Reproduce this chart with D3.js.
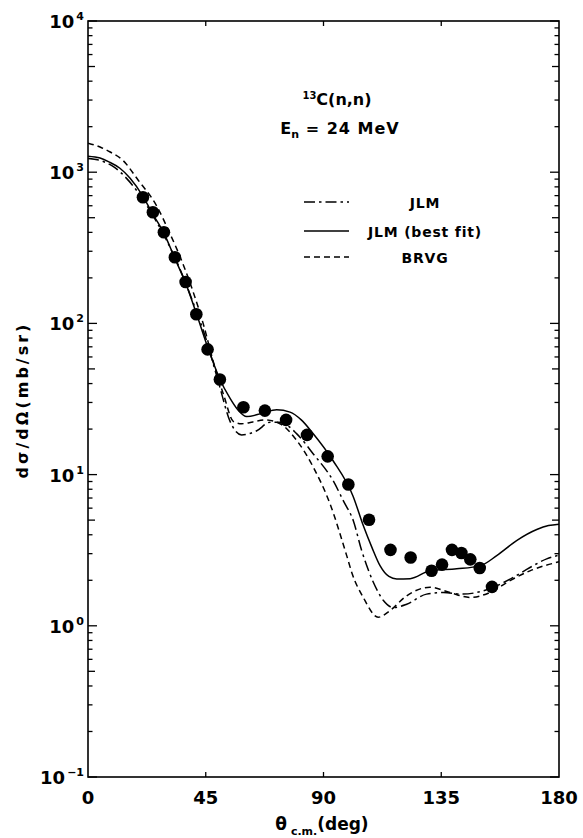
<!DOCTYPE html>
<html><head><meta charset="utf-8">
<script src="https://cdn.jsdelivr.net/npm/d3@7"></script>
<style>
body{margin:0;background:#fff;}
text{font-family:"DejaVu Sans","Liberation Sans",Arial,sans-serif;fill:#000;}
</style></head>
<body><svg id="c" width="583" height="838"></svg>
<script>
// Data (angle in degrees, cross-section in mb/sr)
const expAngle = [21.0, 24.8, 29.0, 33.2, 37.3, 41.4, 45.7, 50.4, 59.4, 67.6, 75.7, 83.7, 91.6, 99.5, 107.4, 115.6, 123.3, 131.3, 135.3, 139.1, 142.7, 146.1, 149.7, 154.4];
const expSigma = [683, 543, 401, 274, 188, 115, 67.3, 42.6, 27.9, 26.5, 23.0, 18.3, 13.2, 8.6, 5.03, 3.18, 2.83, 2.31, 2.54, 3.18, 3.03, 2.75, 2.41, 1.81];

const bestAngle = [0, 4.6, 8, 12.2, 16.1, 21, 24.8, 29, 33.2, 37.5, 41.3, 45.5, 50.1, 54.3, 57.5, 60.6, 66.5, 72.1, 77.2, 81.5, 86, 93.6, 101.3, 105.2, 108.5, 111.6, 115, 118, 123.1, 130.7, 140.9, 149.8, 156.2, 163.8, 171.5, 176, 180];
const bestSigma = [1277, 1240, 1170, 1062, 912, 693, 527, 395, 269, 181, 118, 71.5, 43.9, 31.9, 26.5, 24.2, 25.4, 26.8, 25.9, 23.0, 18.7, 12.4, 7.2, 4.6, 3.3, 2.5, 2.12, 2.04, 2.05, 2.31, 2.38, 2.49, 2.91, 3.66, 4.33, 4.6, 4.7];

const jlmAngle = [0, 5, 10, 15, 20, 25, 30, 35, 40, 45, 50, 54.3, 58.7, 64.5, 69.6, 73.4, 79.8, 86.1, 93.7, 97.6, 101.4, 104.6, 109, 112.9, 116.7, 121.8, 129.4, 135.8, 143.4, 148.5, 154.9, 162.5, 168.9, 175.3, 180];
const jlmSigma = [1230, 1190, 1080, 900, 700, 510, 355, 232, 140, 80, 40, 22.5, 18.3, 19.5, 22.2, 22.2, 18.6, 13.7, 9.1, 6.7, 4.95, 3.14, 1.95, 1.47, 1.32, 1.39, 1.62, 1.66, 1.62, 1.66, 1.80, 2.09, 2.43, 2.77, 2.93];

const brvgAngle = [0, 4.6, 8.5, 13.3, 19.2, 26.2, 31.3, 36, 40, 44, 48, 52, 55.5, 58.7, 63, 67.6, 73.4, 79.8, 86.1, 92.5, 98.9, 101, 105.2, 110.9, 115.4, 121.8, 130.7, 138.3, 146, 153.6, 161.3, 168.9, 180];
const brvgSigma = [1556, 1467, 1360, 1199, 885, 600, 393, 255, 165, 100, 55, 33, 22.5, 21.7, 22.3, 23.0, 21.7, 16.8, 11.2, 6.4, 2.9, 2.2, 1.54, 1.14, 1.26, 1.58, 1.80, 1.66, 1.54, 1.66, 1.99, 2.31, 2.65];

const xTicks = [0, 45, 90, 135, 180];
const yDecades = [-1, 0, 1, 2, 3, 4];
const legendLabels = ["JLM", "JLM (best fit)", "BRVG"];

const svg = d3.select("#c");
const L = 88, R = 559, T = 21, B = 777;
const x = d3.scaleLinear().domain([0, 180]).range([L, R]);
const y = d3.scaleLog().domain([0.1, 1e4]).range([B, T]);

// frame
svg.append("rect").attr("x", L).attr("y", T).attr("width", R - L).attr("height", B - T)
  .attr("fill", "none").attr("stroke", "#000").attr("stroke-width", 1.6);

// y ticks (left + right, inward)
const minor = [];
for (let d = -1; d < 4; d++) for (let m = 2; m <= 9; m++) minor.push(m * Math.pow(10, d));
const g = svg.append("g").attr("stroke", "#000").attr("stroke-width", 1.3);
yDecades.forEach(d => {
  const yy = y(Math.pow(10, d));
  g.append("line").attr("x1", L).attr("x2", L + 9).attr("y1", yy).attr("y2", yy);
  g.append("line").attr("x1", R).attr("x2", R - 9).attr("y1", yy).attr("y2", yy);
});
minor.forEach(v => {
  const yy = y(v);
  const len = (Math.round(v / Math.pow(10, Math.floor(Math.log10(v) + 1e-9))) === 5) ? 7 : 4.5;
  g.append("line").attr("x1", L).attr("x2", L + len).attr("y1", yy).attr("y2", yy);
  g.append("line").attr("x1", R).attr("x2", R - len).attr("y1", yy).attr("y2", yy);
});
xTicks.slice(1, -1).forEach(v => {
  g.append("line").attr("x1", x(v)).attr("x2", x(v)).attr("y1", B).attr("y2", B - 5);
  g.append("line").attr("x1", x(v)).attr("x2", x(v)).attr("y1", T).attr("y2", T + 5);
});

// y tick labels
yDecades.forEach(d => {
  const t = svg.append("text").attr("x", 84).attr("y", y(Math.pow(10, d)) + 7)
    .attr("text-anchor", "end").attr("font-size", 18).attr("font-weight", "bold");
  t.append("tspan").text("10");
  t.append("tspan").attr("font-size", 11).attr("dx", 2).attr("dy", -8)
    .text(String(d).replace("-", "\u2212"));
});
// x tick labels
xTicks.forEach(v => {
  svg.append("text").attr("x", x(v)).attr("y", 804).attr("text-anchor", "middle")
    .attr("font-size", 18).attr("font-weight", "bold").text(v);
});

// axis titles
const xt = svg.append("text").attr("x", 322).attr("y", 830).attr("text-anchor", "middle")
  .attr("font-size", 17).attr("font-weight", "bold");
xt.append("tspan").text("θ");
xt.append("tspan").attr("font-size", 11).attr("dy", 5).text(" c.m.");
xt.append("tspan").attr("dy", -5).text("(deg)");

svg.append("text").attr("transform", "translate(28,400) rotate(-90)").attr("text-anchor", "middle")
  .attr("font-size", 16).attr("font-weight", "bold").attr("letter-spacing", 3).text("dσ/dΩ(mb/sr)");

// title
const t1 = svg.append("text").attr("x", 337).attr("y", 105).attr("text-anchor", "middle")
  .attr("font-size", 16).attr("font-weight", "bold");
t1.append("tspan").attr("font-size", 10).attr("dy", -6).text("13");
t1.append("tspan").attr("dy", 6).text("C(n,n)");
const t2 = svg.append("text").attr("x", 340).attr("y", 134).attr("text-anchor", "middle")
  .attr("font-size", 16).attr("font-weight", "bold");
t2.append("tspan").text("E");
t2.append("tspan").attr("font-size", 11).attr("dy", 4).text("n");
t2.append("tspan").attr("dy", -4).attr("letter-spacing", 1).text(" = 24 MeV");

// curves
const line = d3.line().x(d => x(d[0])).y(d => y(d[1])).curve(d3.curveMonotoneX);
const styles = [
  {a: jlmAngle, s: jlmSigma, dash: "11,4,2.5,4"},
  {a: bestAngle, s: bestSigma, dash: null},
  {a: brvgAngle, s: brvgSigma, dash: "6,4"}
];
svg.append("clipPath").attr("id", "cl").append("rect")
  .attr("x", L).attr("y", T).attr("width", R - L).attr("height", B - T);
styles.forEach(st => {
  svg.append("path").datum(st.a.map((v, i) => [v, st.s[i]])).attr("d", line)
    .attr("clip-path", "url(#cl)")
    .attr("fill", "none").attr("stroke", "#000").attr("stroke-width", 1.5)
    .attr("stroke-dasharray", st.dash);
});

// data points
svg.append("g").selectAll("circle").data(expAngle.map((v, i) => [v, expSigma[i]])).join("circle")
  .attr("cx", d => x(d[0])).attr("cy", d => y(d[1])).attr("r", 6.3).attr("fill", "#000");

// legend
const ly = [202, 231, 257];
styles.forEach((st, i) => {
  svg.append("line").attr("x1", 304).attr("x2", 349).attr("y1", ly[i]).attr("y2", ly[i])
    .attr("stroke", "#000").attr("stroke-width", 1.5).attr("stroke-dasharray", st.dash);
  svg.append("text").attr("x", 425).attr("y", ly[i] + 6).attr("text-anchor", "middle")
    .attr("font-size", 14).attr("font-weight", "bold").attr("letter-spacing", 0.8).text(legendLabels[i]);
});
</script></body></html>
